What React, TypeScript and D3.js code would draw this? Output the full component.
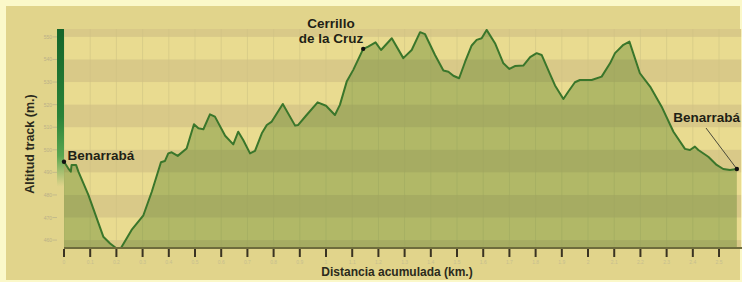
import React from "react";
import * as d3 from "d3";

// distance (km) and altitude (m)
const distances = [
  0.0, 0.016, 0.026, 0.029, 0.046, 0.055, 0.093, 0.15, 0.176, 0.201, 0.218, 0.258, 0.303, 0.335,
  0.37, 0.385, 0.398, 0.411, 0.434, 0.468, 0.496, 0.513, 0.532, 0.557, 0.576, 0.615, 0.646, 0.665,
  0.684, 0.71, 0.729, 0.755, 0.774, 0.793, 0.835, 0.882, 0.894, 0.926, 0.968, 1.0, 1.034, 1.053,
  1.079, 1.104, 1.142, 1.161, 1.189, 1.21, 1.251, 1.295, 1.327, 1.359, 1.378, 1.416, 1.448, 1.467,
  1.486, 1.508, 1.531, 1.556, 1.575, 1.594, 1.613, 1.645, 1.677, 1.7, 1.721, 1.753, 1.779, 1.804,
  1.823, 1.855, 1.874, 1.906, 1.925, 1.95, 1.969, 2.014, 2.052, 2.084, 2.103, 2.135, 2.158, 2.198,
  2.237, 2.281, 2.326, 2.37, 2.389, 2.408, 2.421, 2.459, 2.491, 2.516, 2.542, 2.568,
];
const altitudes = [
  494.7, 491.8, 490.3, 493.3, 493.3, 490.3, 480, 461.5, 458.5, 456.3, 456.6, 464.5, 471, 481.4,
  494.5, 495, 498.4, 498.9, 497.3, 500.6, 511.3, 509.5, 509.1, 515.7, 514.7, 506.2, 502.4, 508,
  504.3, 498.4, 499.5, 507.3, 511, 512.5, 520.3, 510.7, 511, 515.4, 521, 519.5, 515.4, 519.9,
  530.2, 535.4, 544.7, 545.7, 547.6, 544.2, 549.4, 540.6, 544.2, 552.1, 551.2, 542, 535.1, 534.6,
  532.8, 531.7, 539, 546.2, 548.7, 549.4, 553.1, 547.2, 538.3, 535.8, 537.1, 537.3, 541, 542.8,
  542, 533.5, 528.5, 522.5, 525.8, 529.9, 530.9, 530.9, 532.4, 538.3, 542.8, 546.5, 547.9, 533.9,
  528, 519.1, 508, 500.4, 499.9, 501.4, 499.9, 496.9, 493.3, 491.5, 491, 491.5,
];
const yTicks = [460, 470, 480, 490, 500, 510, 520, 530, 540, 550];
const xTicks = d3.range(0, 26).map((i) => i / 10);
const bands = [450, 470, 490, 510, 530, 550];

const W = 742;
const H = 282;

export default function App() {
  const x = d3.scaleLinear().domain([0, 2.585]).range([64, 741.3]);
  const y = d3.scaleLinear().domain([456.5, 553.5]).range([248, 29]);

  const data = distances.map((d, i) => ({ d, e: altitudes[i] }));

  const area = d3
    .area<{ d: number; e: number }>()
    .x((p) => x(p.d))
    .y0(y(456.5))
    .y1((p) => y(p.e));
  const line = d3
    .line<{ d: number; e: number }>()
    .x((p) => x(p.d))
    .y((p) => y(p.e));

  const first = data[0];
  const top = data[44];
  const last = data[data.length - 1];
  const left = x(0);
  const right = x(2.585);
  const font = "'Liberation Sans', Arial, sans-serif";

  return (
    <svg
      width={W}
      height={H}
      style={{ position: "absolute", left: 0, top: 0 }}
      fontFamily={font}
    >
      <defs>
        <linearGradient id="bar" x1="0" y1="0" x2="0" y2="1">
          <stop offset="0%" stopColor="#15652a" />
          <stop offset="40%" stopColor="#2a8238" />
          <stop offset="58%" stopColor="#5aa650" />
          <stop offset="72%" stopColor="#6fae58" stopOpacity="0" />
        </linearGradient>
        <clipPath id="plot">
          <rect x={left} y={y(553.5)} width={right - left} height={y(456.5) - y(553.5)} />
        </clipPath>
      </defs>

      <rect width={W} height={H} fill="#fbf8c9" />
      <rect x={6} y={6} width={W - 8} height={H - 8} fill="#e1d48b" />

      <g clipPath="url(#plot)">
        <rect x={left} y={y(553.5)} width={right - left} height={y(456.5) - y(553.5)} fill="#e9db90" />
        {bands.map((b) => (
          <rect key={b} x={left} y={y(b + 10)} width={right - left} height={y(b) - y(b + 10)} fill="#d9c988" />
        ))}
        {xTicks.map((t) => (
          <line key={t} x1={x(t)} x2={x(t)} y1={y(553.5)} y2={y(456.5)} stroke="#cfc385" strokeWidth={1} opacity={0.6} />
        ))}
        <path d={area(data) || ""} fill="rgba(60,112,20,0.32)" />
        <path d={line(data) || ""} fill="none" stroke="#3a762b" strokeWidth={2} strokeLinejoin="round" />
      </g>

      <rect x={57} y={29} width={7} height={219} fill="url(#bar)" />

      {yTicks.map((t) => (
        <g key={t}>
          <line x1={52.5} x2={57} y1={y(t)} y2={y(t)} stroke="#c4bb8c" strokeWidth={1} />
          <text x={52} y={y(t) + 2} textAnchor="end" fontSize={5} fill="#b9b089">
            {t}
          </text>
        </g>
      ))}

      <line x1={left} x2={W} y1={248} y2={248} stroke="#6e6c3c" strokeWidth={2} />
      {xTicks.map((t) => (
        <g key={t}>
          <line x1={x(t)} x2={x(t)} y1={249} y2={257} stroke="#3a3322" strokeWidth={2} />
          <text x={x(t)} y={263.5} textAnchor="middle" fontSize={5} fill="#c6be90">
            {d3.format("")(t)}
          </text>
        </g>
      ))}

      <text x={397} y={275.5} textAnchor="middle" fontSize={12} fontWeight="bold" fill="#2b2a1c">
        Distancia acumulada (km.)
      </text>
      <text
        transform="translate(34,144) rotate(-90)"
        textAnchor="middle"
        fontSize={12.5}
        fontWeight="bold"
        fill="#2b2a1c"
      >
        Altitud track (m.)
      </text>

      {/* annotations */}
      <circle cx={x(first.d)} cy={y(first.e)} r={2.2} fill="#111" />
      <text x={67.5} y={160} fontSize={13.5} fontWeight="bold" fill="#1f1f16">
        Benarrabá
      </text>

      <circle cx={x(top.d)} cy={y(top.e)} r={2.2} fill="#111" />
      <text x={331} y={28} textAnchor="middle" fontSize={13.5} fontWeight="bold" fill="#1f1f16">
        Cerrillo
      </text>
      <text x={331} y={43} textAnchor="middle" fontSize={13.5} fontWeight="bold" fill="#1f1f16">
        de la Cruz
      </text>

      <line x1={706} y1={128} x2={x(last.d)} y2={y(last.e)} stroke="#4a4a3a" strokeWidth={1} />
      <circle cx={x(last.d)} cy={y(last.e)} r={2.2} fill="#111" />
      <text x={740} y={122} textAnchor="end" fontSize={13.5} fontWeight="bold" fill="#1f1f16">
        Benarrabá
      </text>
    </svg>
  );
}
